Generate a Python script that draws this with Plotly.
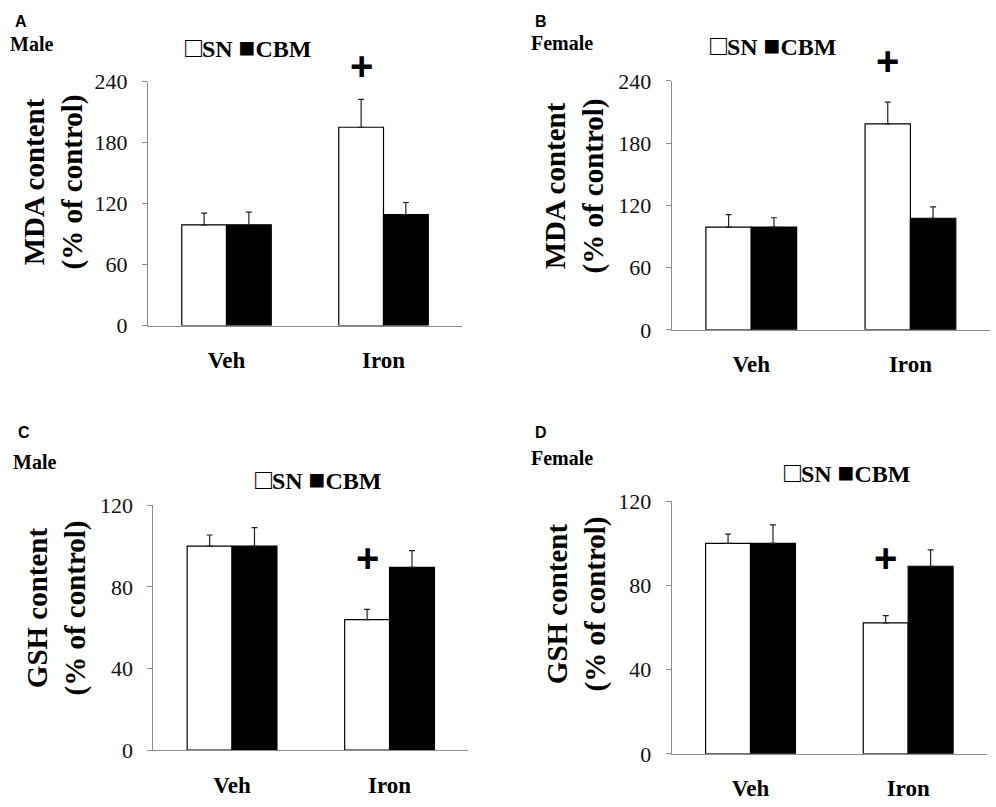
import plotly.graph_objects as go
from plotly.subplots import make_subplots

groups = ['Veh', 'Iron']

# MDA content (% of control)
mda_male_sn = [99, 195]
mda_male_sn_err = [11.5, 27.5]
mda_male_cbm = [99, 109]
mda_male_cbm_err = [12.5, 12]

mda_female_sn = [99, 198.5]
mda_female_sn_err = [12, 21]
mda_female_cbm = [99, 107.5]
mda_female_cbm_err = [9, 11]

# GSH content (% of control)
gsh_male_sn = [100, 64]
gsh_male_sn_err = [5.4, 5]
gsh_male_cbm = [100, 89.6]
gsh_male_cbm_err = [9, 8.2]

gsh_female_sn = [100, 62.2]
gsh_female_sn_err = [4.4, 3.4]
gsh_female_cbm = [100, 89.1]
gsh_female_cbm_err = [8.8, 7.8]

# height of the "+" marks over the Iron SN bar
plus_y = [253.5, 257.5, 93, 92]

serif = 'Liberation Serif'
sans = 'Liberation Sans'
W, H = 996, 807
bargap = 0.43

# the photographed page shows the figure slightly squeezed in height,
# so target pixel rows are mapped back onto the paper
OFF, SQ = 12.5, 0.969
def sy(y):
    return (y - OFF) / SQ

fig = make_subplots(rows=2, cols=2)

panels = [
    (1, 1, mda_male_sn, mda_male_sn_err, mda_male_cbm, mda_male_cbm_err),
    (1, 2, mda_female_sn, mda_female_sn_err, mda_female_cbm, mda_female_cbm_err),
    (2, 1, gsh_male_sn, gsh_male_sn_err, gsh_male_cbm, gsh_male_cbm_err),
    (2, 2, gsh_female_sn, gsh_female_sn_err, gsh_female_cbm, gsh_female_cbm_err),
]

for r, c, sn, sn_e, cbm, cbm_e in panels:
    fig.add_trace(go.Bar(name='SN', x=groups, y=sn,
                         marker=dict(color='white', line=dict(color='black', width=1.2)),
                         error_y=dict(type='data', symmetric=False, array=sn_e, arrayminus=[0, 0],
                                      color='#222', thickness=1.2, width=3),
                         showlegend=False), row=r, col=c)
    fig.add_trace(go.Bar(name='CBM', x=groups, y=cbm,
                         marker=dict(color='black', line=dict(color='black', width=1.2)),
                         error_y=dict(type='data', symmetric=False, array=cbm_e, arrayminus=[0, 0],
                                      color='#222', thickness=1.2, width=3),
                         showlegend=False), row=r, col=c)

#%% axes, placed in pixels of the 996x807 picture
boxes = {  # x0, x1, ytop, ybottom
    1: (148, 462, 82, 326),
    2: (671.7, 990, 81.3, 330.3),
    3: (153.3, 468.3, 505.7, 750.7),
    4: (671.7, 987, 501.7, 754.3),
}
yranges = {1: [0, 240], 2: [0, 240], 3: [0, 120], 4: [0, 120]}
ydticks = {1: 60, 2: 60, 3: 40, 4: 40}

for i, (x0, x1, yt, yb) in boxes.items():
    s = '' if i == 1 else str(i)
    fig.layout['xaxis' + s].update(
        domain=[x0 / W, x1 / W], showline=True, linecolor='#8c8c8c', linewidth=1,
        ticks='', showgrid=False, ticklabelstandoff=14,
        tickfont=dict(family=serif, size=23, color='black', weight='bold'))
    fig.layout['yaxis' + s].update(
        domain=[1 - sy(yb) / H, 1 - sy(yt) / H], range=yranges[i], dtick=ydticks[i],
        showline=True, linecolor='#8c8c8c', linewidth=1, ticks='outside', ticklen=5,
        tickcolor='#8c8c8c', showgrid=False, zeroline=False, ticklabelstandoff=10,
        tickfont=dict(family=serif, size=22, color='#111'))

fig.update_layout(width=W, height=H, margin=dict(l=0, r=0, t=0, b=0),
                  plot_bgcolor='white', paper_bgcolor='white',
                  barmode='group', bargap=bargap, bargroupgap=0)

#%% text around the panels
def px(x, y, text, size, family=serif, bold=True, angle=0, **kw):
    t = '<b>%s</b>' % text if bold else text
    fig.add_annotation(xref='paper', yref='paper', x=x / W, y=1 - max(sy(y), 0) / H, text=t,
                       showarrow=False, textangle=angle, xanchor='center',
                       font=dict(family=family, size=size, color='black'), **kw)

letters = ['A', 'B', 'C', 'D']
letter_xy = [(21, 8), (541, 8), (24, 423), (541, 423)]   # top of the letter
sexes = ['Male', 'Female', 'Male', 'Female']
sex_xy = [(31, 44), (562, 43), (34, 462), (562, 458)]
legend_xy = [(248, 48), (773, 46), (318, 480), (847, 473)]
ytitles = ['MDA content<br>(% of control)', 'MDA content<br>(% of control)',
           'GSH content<br>(% of control)', 'GSH content<br>(% of control)']
ytitle_xy = [(54, 183), (575, 187), (57, 609), (577, 605)]

for k in range(4):
    px(*letter_xy[k], letters[k], 16, family=sans, yanchor='top', borderpad=0)
    px(*sex_xy[k], sexes[k], 20, yanchor='middle', borderpad=0)
    px(*legend_xy[k], '<span style="font-size:28px">□</span>SN <span style="font-size:28px">■</span>CBM', 24,
       yanchor='middle')
    px(*ytitle_xy[k], ytitles[k], 29, angle=-90, yanchor='middle')

# "+" over the Iron SN bar (left bar of the Iron group)
sn_pos = 1 - (1 - bargap) / 4
for k in range(4):
    s = '' if k == 0 else str(k + 1)
    fig.add_annotation(xref='x' + s, yref='y%s domain' % s, x=sn_pos,
                       y=plus_y[k] / [240, 240, 120, 120][k], text='<b>+</b>',
                       showarrow=False, xanchor='center', yanchor='middle', yshift=2,
                       font=dict(family=sans, size=40, color='black'))

fig.write_html('out.html', config={'displayModeBar': False},
               post_script="document.body.style.margin='0';")
